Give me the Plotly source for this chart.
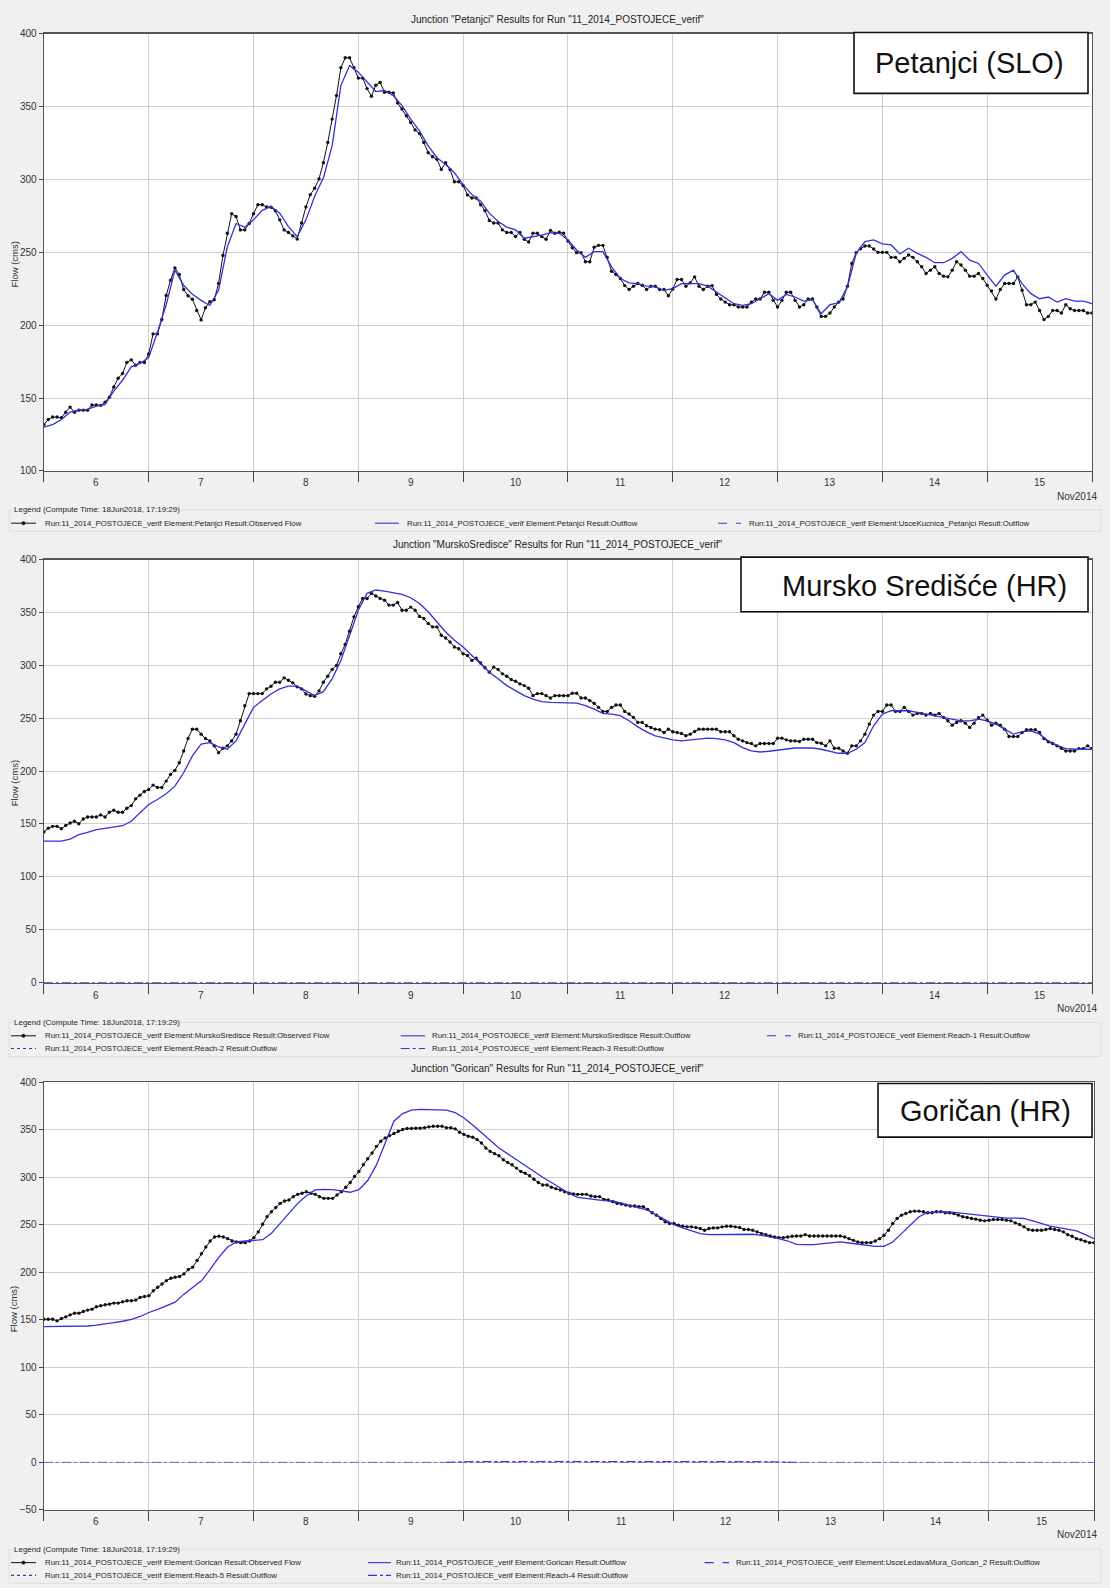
import plotly.graph_objects as go
import pandas as pd

W, H = 1110, 1588
START = pd.Timestamp("2014-11-06 00:00")

HOURS_OBS = list(range(0, 241))
HOURS_SIM = list(range(0, 241, 2))
HOURS_FLAT = [0, 240]

TITLES = [
    'Junction "Petanjci" Results for Run "11_2014_POSTOJECE_verif"',
    'Junction "MurskoSredisce" Results for Run "11_2014_POSTOJECE_verif"',
    'Junction "Gorican" Results for Run "11_2014_POSTOJECE_verif"',
]
BOX_LABELS = ["Petanjci (SLO)", "Mursko Središće (HR)", "Goričan (HR)"]
DAY_TICK_LABELS = ["6", "7", "8", "9", "10", "11", "12", "13", "14", "15"]
MONTH_LABEL = "Nov2014"
LEGEND_TITLE = "Legend (Compute Time: 18Jun2018, 17:19:29)"
Y_TITLE = "Flow (cms)"

# ---------------- Petanjci ----------------
P1_OBS = [
    131.8, 135.3, 137, 137, 136.5, 140.3, 143.8, 140.3, 141.7, 141.7,
    141.7, 145.2, 145.2, 145, 147.2, 150.6, 157.6, 163.6, 166.8, 174.4,
    176.2, 172.5, 174.4, 174.4, 180.2, 194, 194, 203.9, 220.4, 230.8,
    239.3, 234.7, 224.4, 220.2, 217.7, 210, 203.6, 211.9, 216, 217.4,
    228.5, 247.8, 263, 276.4, 274.5, 265.3, 265.3, 269.7, 276.4, 282.6,
    282.6, 281, 280.8, 278.5, 272.2, 265.3, 263.5, 261.2, 259.1, 270,
    281, 289.5, 293.9, 300.3, 311.4, 325.2, 341.3, 357.4, 376.5, 383.4,
    383.4, 376.5, 369.4, 369.4, 362.2, 357, 364.5, 366.4, 359.7, 359.7,
    359.3, 352.4, 348.2, 343.6, 339, 333.9, 331.4, 325.2, 318.3, 315.5,
    313.7, 306.8, 311.4, 306.8, 298.3, 298.3, 295.7, 289.3, 287.2, 287.2,
    282.6, 278.5, 271.8, 270, 270, 265.3, 263.5, 263.5, 260.7, 263.5,
    258.9, 257, 263, 263, 260.7, 258.9, 265, 263, 263.7, 263,
    257.7, 253.1, 249.7, 249.7, 243.5, 243.5, 253.4, 254.7, 254.7, 246.5,
    237, 234.7, 232, 227.1, 224.4, 226.7, 228.5, 227.4, 224.4, 226.7,
    226.7, 224.4, 224.4, 220.2, 224.8, 231.3, 231.3, 226.7, 229, 233.1,
    226.7, 224.4, 226.7, 227.1, 221.1, 217.9, 215.8, 214, 214, 212.4,
    212.4, 212.4, 215.8, 217.9, 217.9, 222.5, 222.5, 217, 212.4, 217,
    222.5, 222.5, 217, 212.4, 214, 217.9, 217.9, 212.4, 206, 206,
    208.3, 212.4, 215.8, 217.9, 226.7, 242.3, 249.7, 252.4, 254.3, 254.3,
    252.2, 249.9, 249.9, 249.9, 246.5, 246.5, 243.5, 245.8, 248.1, 246.5,
    243.5, 240, 235.4, 237.7, 240, 235.4, 233.6, 233.1, 237.7, 243.5,
    241.2, 237.7, 233.6, 233.6, 235.4, 232, 227.4, 223.4, 217.9, 224.4,
    228.5, 228.5, 228.5, 233.1, 223.9, 214, 214, 215.8, 210, 203.9,
    206, 210, 210, 208.3, 214, 211.2, 210, 210, 210, 208.3,
    208.3,
]
P1_SIM = [
    130, 131.8, 135.3, 140.3, 141.7, 142.2, 144.5, 145.6, 154.8, 162.2,
    171.4, 173.7, 177.8, 195.1, 214, 237.7, 227.3, 221.1, 217, 213.5,
    223.9, 253.8, 269.7, 267.2, 272.2, 278.7, 281.4, 276.8, 267.6, 260.7,
    272.2, 288.4, 301, 322.9, 364.3, 378.1, 373.5, 366.6, 360.2, 360.9,
    357.4, 350.5, 341.3, 333.2, 322.9, 314.8, 310.2, 304.5, 296.4, 289.5,
    284.9, 276.8, 271.1, 267.2, 265.3, 259.6, 260.7, 261.8, 263.5, 263,
    258.4, 251.5, 246.5, 250.4, 250.4, 240, 232, 229, 228.5, 226.7,
    226.2, 223.9, 225, 228.5, 228.5, 228.5, 226.7, 222.7, 218.1, 214.7,
    213.5, 214.7, 218.1, 221.6, 217, 221.1, 219.3, 216.5, 217.4, 207.8,
    214, 215.2, 226.2, 249.2, 257.3, 258.4, 255.7, 255, 248.8, 252.7,
    249.2, 246.5, 242.8, 242.8, 245.8, 250.4, 244.6, 242.3, 234.3, 226.7,
    234.3, 237.7, 228.5, 221.6, 218.1, 219.3, 215.8, 218.1, 216.5, 216.5,
    214.7,
]
P1_USCE = [0, 0]

# ---------------- Mursko Sredisce ----------------
P2_OBS = [
    142.3, 146, 147.7, 147.7, 145.5, 148.6, 150.9, 152.5, 150.2, 154.7,
    156.6, 156.6, 156.6, 158.5, 156.6, 161, 162.9, 161, 161, 164.8,
    167.3, 173.7, 177.2, 180.7, 182.6, 186.7, 184.5, 184.5, 190.5, 196.8,
    200.6, 207.9, 219, 230.7, 239.6, 239.6, 234.9, 230.7, 228.5, 223.8,
    217.4, 221.5, 223.8, 228.5, 234.9, 247.5, 261.8, 273.2, 273.2, 273.2,
    273.2, 277.7, 280.2, 284, 284, 288.1, 285.9, 283.4, 279.6, 277.7,
    272.9, 271.3, 270.7, 275.8, 284, 289.7, 296, 299.8, 310.9, 319.8,
    332.2, 345.8, 355.3, 363.2, 363.2, 368, 365.5, 363.2, 361.6, 356.9,
    356.9, 359.4, 352.1, 352.1, 355, 352.1, 346.1, 344.2, 339.5, 336.3,
    336.3, 328.4, 325.8, 322, 317.3, 315.7, 310.9, 309.3, 304.6, 306.8,
    302.1, 297.6, 293.5, 298.3, 296, 291.9, 289.7, 286.5, 284.9, 282.4,
    280.8, 278.3, 271.3, 273.2, 273.2, 271.3, 269.1, 271.3, 271.3, 271.3,
    271.3, 273.5, 273.5, 269.1, 269.1, 266.6, 264, 260.2, 256.4, 256.4,
    260.2, 262.4, 262.4, 256.4, 253.9, 250.7, 246, 246, 242.8, 241.2,
    239.6, 239, 236.4, 239.6, 237.1, 236.4, 235.5, 233.3, 234.9, 237.4,
    239.6, 239.6, 239.6, 239.6, 239.6, 237.1, 237.1, 237.1, 233.3, 230.1,
    228.5, 226.9, 226, 223.8, 226, 226, 226, 226, 231.1, 231.1,
    229.5, 228.5, 228.5, 227.9, 230.1, 230.1, 230.1, 226.9, 226.3, 223.8,
    228.5, 221.5, 221.5, 219, 216.8, 223.8, 223.8, 228.5, 234.9, 244.4,
    252.9, 256.4, 256.4, 262.4, 262.4, 256.4, 256.4, 260.2, 256.4, 252.9,
    254.5, 254.5, 252.9, 254.5, 252.9, 254.5, 250.7, 247.5, 243.4, 246,
    247.5, 245.3, 241.2, 245.3, 250.4, 252.9, 248.1, 243.4, 245.3, 243.4,
    239.6, 232.7, 232.7, 232.7, 236.4, 239, 239, 239, 236.4, 230.7,
    227.6, 226, 223.8, 221.5, 219, 219, 219, 221.2, 221.2, 223.8,
    221.2,
]
P2_SIM = [
    133.8, 133.8, 133.8, 135.7, 139.8, 142, 144.5, 145.8, 146.7, 148.3,
    152.5, 160.4, 168.3, 173.1, 178.5, 185.7, 198.4, 214.3, 225.4, 226.9,
    222.8, 220.6, 228.5, 244.4, 260.2, 266.6, 272.9, 277.7, 280.2, 280.2,
    276.1, 271.3, 275.1, 287.2, 304.6, 328.4, 352.1, 368, 371.2, 370.2,
    368.6, 367, 363.9, 358.5, 350.6, 341, 331.5, 323.6, 317.3, 309.3,
    301.4, 293.5, 287.2, 280.8, 276.1, 271.3, 268.1, 265.6, 265, 265,
    265, 264.3, 261.8, 258.6, 254.5, 253.9, 252.3, 247.5, 241.8, 237.1,
    233.3, 231.1, 229.5, 228.5, 229.5, 230.1, 231.1, 230.7, 229.5, 226.9,
    222.2, 219, 218, 218.7, 219.9, 221.2, 221.8, 221.8, 221.8, 220.6,
    219, 216.8, 216.8, 220.6, 226.9, 242.8, 253.9, 257, 257, 257,
    255.5, 253.9, 252.3, 250.7, 248.5, 247.5, 247.5, 249.1, 247.5, 244.4,
    239.6, 234.9, 237.1, 238, 234.9, 228.5, 224.4, 221.2, 220.6, 220.6,
    220.6,
]
P2_REACH1 = [0, 0]
P2_REACH2 = [0, 0]
P2_REACH3 = [0, 0]

# ---------------- Gorican ----------------
P3_OBS = [
    150.6, 150.6, 150.6, 148.9, 151.3, 153.1, 155.2, 157, 157, 158.7,
    160.2, 161.2, 163.7, 164.8, 165.8, 166.5, 167.6, 167.6, 169, 170,
    170, 170.8, 173.6, 174.6, 175.3, 180.6, 184.2, 187.7, 191.2, 193.7,
    194.8, 195.5, 198.3, 202.9, 205.4, 212.4, 219.5, 226.6, 232.9, 237.2,
    237.9, 237.2, 235.4, 232.9, 231.9, 231.2, 231.2, 232.9, 236.5, 242.5,
    250.6, 258.4, 263.7, 268.2, 272.5, 275, 276, 279.6, 282, 283.1,
    284.8, 283.1, 282, 279.6, 277.8, 277.8, 277.8, 281.3, 284.8, 289.4,
    294.4, 300.7, 306, 313.1, 319.5, 325.5, 332.5, 337.8, 341.4, 343.8,
    346, 348.4, 350.2, 351.3, 351.3, 351.6, 351.6, 352, 353, 353.7,
    353.7, 353.7, 352, 352, 350.9, 347.4, 344.9, 343.1, 342.1, 339.6,
    336.1, 330.8, 327.2, 324.8, 322.6, 318.4, 315.6, 313.1, 309.6, 306,
    304.3, 301.5, 297.9, 294.4, 291.9, 291.9, 289.4, 288, 286.5, 284.8,
    283.1, 282.4, 282, 282, 282, 280.3, 279.6, 279.6, 276.7, 276,
    274.3, 272.5, 271.8, 270.7, 269.7, 269.7, 269, 269, 266.1, 262.6,
    260.1, 256.6, 253.1, 251.3, 251.3, 249.5, 248.5, 247.8, 247.8, 247.1,
    246, 244.2, 246, 246.7, 246.7, 247.8, 248.5, 248.5, 247.8, 247.1,
    245, 245, 244.2, 242.5, 240.7, 239.6, 238.2, 237.2, 236.5, 236.5,
    237.2, 237.9, 238.2, 238.2, 239.6, 238.2, 238.2, 238.2, 238.2, 238.2,
    238.2, 238.2, 238.2, 237.2, 235.4, 233.6, 231.9, 231.2, 231.2, 231.2,
    232.9, 235.4, 238.9, 244.2, 251.3, 256.6, 260.1, 261.9, 263.7, 264.4,
    264.4, 263.7, 262.6, 262.6, 263.7, 263.7, 262.6, 262.6, 261.9, 260.1,
    258.4, 257.7, 256.6, 255.9, 254.8, 254.1, 254.8, 255.5, 255.5, 255.5,
    254.8, 254.1, 252, 250.2, 247.8, 245, 244.2, 244.2, 244.2, 245,
    246, 245, 244.2, 242.5, 239.6, 237.9, 235.4, 234.3, 232.6, 231.2,
    231.2,
]
P3_SIM = [
    142.8, 142.8, 142.8, 142.8, 143, 143.5, 144.3, 145.3, 147, 148.5,
    150.5, 153.5, 157.7, 161, 164.5, 168.5, 177, 184, 191, 203,
    216, 226.6, 232, 232.9, 233.5, 234.3, 241, 252, 262, 272.5,
    280.5, 286.6, 287.3, 287, 285.9, 284.2, 287, 296.5, 313, 335.4,
    359, 367, 370.7, 371.4, 371.4, 371.4, 370.7, 368, 362.3, 355,
    346.5, 339, 330.8, 324.5, 318.4, 312, 306, 300, 294.5, 289,
    283.1, 278.9, 277.8, 276, 275.3, 275, 272.5, 270.7, 268.2, 265.4,
    260.1, 254.8, 250.2, 246.7, 243.5, 240.7, 239.6, 239.6, 239.6, 240,
    240, 240, 238.9, 237.2, 235.4, 232.9, 229.4, 229, 229, 230.1,
    230.8, 231.9, 230.8, 229.4, 228.3, 227.3, 227.3, 231.9, 240.7, 249.5,
    258.4, 263, 263.7, 263.7, 263, 261.9, 260.8, 259.8, 258.4, 257.3,
    256.9, 256.9, 256.6, 254.1, 251.3, 248.5, 247.1, 245.3, 243.5, 239.6,
    235.4,
]
P3_USCE = [0, 0]
P3_REACH5 = [0, 0]
P3_REACH4_HOURS = [92, 96, 110, 130, 150, 165, 172]
P3_REACH4 = [0, 0.8, 1.0, 1.2, 1.0, 0.8, 0]

BLUE = "#3232d8"
ZERO_BLUE = "#6e6ee0"
BLACK = "#111111"
FONT = "Liberation Sans"


def times(hours):
    return [START + pd.Timedelta(hours=h) for h in hours]


def px(x):
    return x / W


def py(y):
    return 1 - y / H


PANELS = [
    dict(top=28.7, bot=469.2, right=1092, yr=[100, 400],
         title_y=14.5, ticklab_y=481, nov_y=494.5, leg_title_y=508.5, rows=[521.8],
         ylab_y=261, box=(854, 27.7, 1088, 89), box_text=(969.5, 58.5),
         series=[
             ("obs", HOURS_OBS, P1_OBS),
             ("solid", HOURS_SIM, P1_SIM),
             ("dash", HOURS_FLAT, P1_USCE),
         ],
         legend=[
             (0, 11, 36, 42.5, "obs", "Run:11_2014_POSTOJECE_verif Element:Petanjci Result:Observed Flow"),
             (0, 375, 399, 404.5, "solid", "Run:11_2014_POSTOJECE_verif Element:Petanjci Result:Outflow"),
             (0, 718, 741, 747, "dash", "Run:11_2014_POSTOJECE_verif Element:UsceKucnica_Petanjci Result:Outflow"),
         ]),
    dict(top=558.4, bot=985, right=1092, yr=[-0.6, 400],
         title_y=543.5, ticklab_y=997, nov_y=1010, leg_title_y=1024.5, rows=[1038, 1050.8],
         ylab_y=783.5, box=(741, 556, 1088, 611), box_text=(924, 585),
         series=[
             ("obs", HOURS_OBS, P2_OBS),
             ("solid", HOURS_SIM, P2_SIM),
             ("dash", HOURS_FLAT, P2_REACH1),
             ("dot", HOURS_FLAT, P2_REACH2),
             ("dashdot", HOURS_FLAT, P2_REACH3),
         ],
         legend=[
             (0, 11, 36, 43, "obs", "Run:11_2014_POSTOJECE_verif Element:MurskoSredisce Result:Observed Flow"),
             (0, 400.7, 425, 429.6, "solid", "Run:11_2014_POSTOJECE_verif Element:MurskoSredisce Result:Outflow"),
             (0, 767, 791, 796, "dash", "Run:11_2014_POSTOJECE_verif Element:Reach-1 Result:Outflow"),
             (1, 11, 36, 43, "dot", "Run:11_2014_POSTOJECE_verif Element:Reach-2 Result:Outflow"),
             (1, 400.7, 425, 429.6, "dashdot", "Run:11_2014_POSTOJECE_verif Element:Reach-3 Result:Outflow"),
         ]),
    dict(top=1084.7, bot=1515.4, right=1094, yr=[-50, 400],
         title_y=1070.5, ticklab_y=1527, nov_y=1540.5, leg_title_y=1555, rows=[1568.5, 1581.3],
         ylab_y=1313, box=(878, 1086, 1092, 1140), box_text=(985.5, 1114),
         series=[
             ("obs", HOURS_OBS, P3_OBS),
             ("solid", HOURS_SIM, P3_SIM),
             ("dash", HOURS_FLAT, P3_USCE),
             ("dot", HOURS_FLAT, P3_REACH5),
             ("dashdot", P3_REACH4_HOURS, P3_REACH4),
         ],
         legend=[
             (0, 11, 36, 42.5, "obs", "Run:11_2014_POSTOJECE_verif Element:Gorican Result:Observed Flow"),
             (0, 368, 391, 394, "solid", "Run:11_2014_POSTOJECE_verif Element:Gorican Result:Outflow"),
             (0, 704.6, 729, 734, "dash", "Run:11_2014_POSTOJECE_verif Element:UsceLedavaMura_Gorican_2 Result:Outflow"),
             (1, 11, 36, 42.5, "dot", "Run:11_2014_POSTOJECE_verif Element:Reach-5 Result:Outflow"),
             (1, 368, 391, 394, "dashdot", "Run:11_2014_POSTOJECE_verif Element:Reach-4 Result:Outflow"),
         ]),
]

fig = go.Figure()
shapes = []
annotations = []
layout = {}
LEFT = 43.9

for i, p in enumerate(PANELS):
    n = "" if i == 0 else str(i + 1)
    xa, ya = "x" + n, "y" + n
    for kind, hrs, vals in p["series"]:
        if kind == "obs":
            fig.add_trace(go.Scatter(
                x=times(hrs), y=vals, xaxis=xa, yaxis=ya, mode="lines+markers",
                line=dict(color=BLACK, width=1),
                marker=dict(color=BLACK, size=3.4, symbol="circle"),
                showlegend=False, hoverinfo="skip"))
        elif kind == "solid":
            fig.add_trace(go.Scatter(
                x=times(hrs), y=vals, xaxis=xa, yaxis=ya, mode="lines",
                line=dict(color=BLUE, width=1.3),
                showlegend=False, hoverinfo="skip"))
        else:
            fig.add_trace(go.Scatter(
                x=times(hrs), y=vals, xaxis=xa, yaxis=ya, mode="lines",
                line=dict(color=ZERO_BLUE if len(hrs) == 2 else BLUE, width=1, dash=kind),
                showlegend=False, hoverinfo="skip"))

    layout["xaxis" + n] = dict(
        domain=[px(LEFT), px(p["right"])], anchor=ya, type="date",
        range=[START, START + pd.Timedelta(hours=240)],
        tickmode="array",
        tickvals=times(range(0, 241, 24)),
        ticktext=[""] * 11,
        ticks="outside", ticklen=10, tickcolor="#444", tickwidth=1,
        showgrid=True, gridcolor="#cfcfcf", gridwidth=1,
        showline=True, linecolor="#555", linewidth=1.3, mirror=True,
        zeroline=False, layer="below traces", fixedrange=True,
    )
    layout["yaxis" + n] = dict(
        domain=[py(p["bot"]), py(p["top"])], anchor=xa,
        range=p["yr"], tickmode="linear", tick0=0, dtick=50,
        ticks="outside", ticklen=4, tickcolor="#444",
        tickfont=dict(family=FONT, size=10, color="#333"),
        showgrid=True, gridcolor="#cfcfcf", gridwidth=1,
        showline=True, linecolor="#555", linewidth=1.3, mirror=True,
        zeroline=False, layer="below traces", fixedrange=True,
    )

    # day labels centred on each day
    for k, lab in enumerate(DAY_TICK_LABELS):
        annotations.append(dict(
            x=START + pd.Timedelta(hours=24 * k + 12), xref=xa, y=py(p["ticklab_y"]), yref="paper",
            text=lab, showarrow=False, xanchor="center", yanchor="middle",
            font=dict(family=FONT, size=10, color="#333")))
    annotations.append(dict(
        x=px(1099), y=py(p["nov_y"]), xref="paper", yref="paper", text=MONTH_LABEL,
        showarrow=False, xanchor="right", yanchor="middle",
        font=dict(family=FONT, size=10, color="#333")))
    # title
    annotations.append(dict(
        x=px(557), y=py(p["title_y"]), xref="paper", yref="paper", text=TITLES[i],
        showarrow=False, xanchor="center", yanchor="middle",
        font=dict(family=FONT, size=10, color="#222")))
    # y title
    annotations.append(dict(
        x=px(14.3), y=py(p["ylab_y"]), xref="paper", yref="paper", text=Y_TITLE,
        showarrow=False, xanchor="center", yanchor="middle", textangle=-90,
        font=dict(family=FONT, size=9.5, color="#333")))

    # legend frame
    ly0 = p["leg_title_y"]
    ly1 = p["rows"][-1] + 8
    shapes.append(dict(type="rect", xref="paper", yref="paper",
                       x0=px(9), x1=px(1101), y0=py(ly1), y1=py(ly0),
                       line=dict(color="#dedede", width=1), fillcolor="rgba(0,0,0,0)", layer="below"))
    annotations.append(dict(
        x=px(12.5), y=py(ly0), xref="paper", yref="paper", text=LEGEND_TITLE,
        showarrow=False, xanchor="left", yanchor="middle", bgcolor="#f0f0f0",
        borderpad=0, font=dict(family=FONT, size=8, color="#222")))
    for row, lx0, lx1, tx, kind, txt in p["legend"]:
        yy = py(p["rows"][row])
        if kind == "obs":
            shapes.append(dict(type="line", xref="paper", yref="paper",
                               x0=px(lx0), x1=px(lx1), y0=yy, y1=yy,
                               line=dict(color=BLACK, width=1)))
            cx = (lx0 + lx1) / 2
            shapes.append(dict(type="circle", xref="paper", yref="paper",
                               x0=px(cx - 1.7), x1=px(cx + 1.7),
                               y0=py(p["rows"][row] + 1.7), y1=py(p["rows"][row] - 1.7),
                               line=dict(color=BLACK, width=0.5), fillcolor=BLACK))
        else:
            shapes.append(dict(type="line", xref="paper", yref="paper",
                               x0=px(lx0), x1=px(lx1), y0=yy, y1=yy,
                               line=dict(color=BLUE, width=1.1,
                                         dash=None if kind == "solid" else kind)))
        annotations.append(dict(
            x=px(tx), y=yy, xref="paper", yref="paper", text=txt,
            showarrow=False, xanchor="left", yanchor="middle",
            font=dict(family=FONT, size=7.8, color="#222")))

    # station label box
    bx0, by0, bx1, by1 = p["box"]
    shapes.append(dict(type="rect", xref="paper", yref="paper",
                       x0=px(bx0), x1=px(bx1), y0=py(by1), y1=py(by0),
                       line=dict(color="#111", width=1.6), fillcolor="white", layer="above"))
    annotations.append(dict(
        x=px(p["box_text"][0]), y=py(p["box_text"][1]), xref="paper", yref="paper",
        text=BOX_LABELS[i], showarrow=False, xanchor="center", yanchor="middle",
        font=dict(family=FONT, size=29, color="#111")))

fig.update_layout(
    width=W, height=H, margin=dict(l=0, r=0, t=0, b=0),
    paper_bgcolor="#f0f0f0", plot_bgcolor="white",
    showlegend=False, hovermode=False,
    shapes=shapes, annotations=annotations, **layout,
)

fig.write_html("out.html", config={"displayModeBar": False, "staticPlot": True},
               post_script="document.body.style.margin='0';document.body.style.padding='0';")
